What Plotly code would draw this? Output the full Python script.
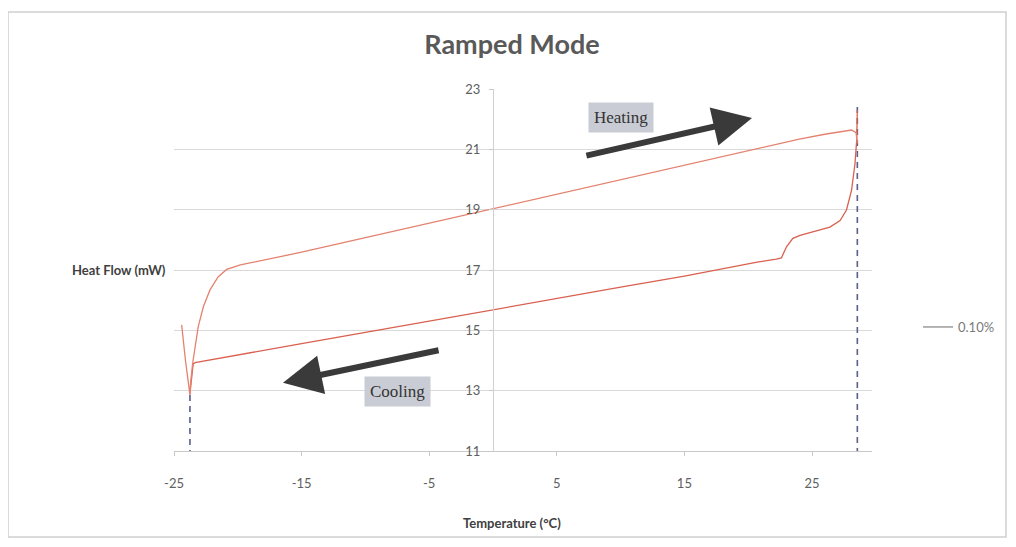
import plotly.graph_objects as go

# Heating curve (upper branch), temperature in °C, heat flow in mW
heat_T = [-24.4, -24.1, -23.75, -23.7, -23.54, -23.35, -23.1, -22.7, -22.18, -21.53, -20.87, -19.8,
          -15, -10, -5, 0, 5, 10, 15, 20, 24, 26, 27.3, 28.1, 28.45, 28.55]
heat_HF = [15.18, 14.0, 12.86, 13.25, 13.9, 14.46, 15.12, 15.78, 16.34, 16.78, 17.02, 17.17,
           17.59, 18.07, 18.55, 19.04, 19.52, 20.0, 20.49, 20.97, 21.34, 21.5, 21.6, 21.64, 21.55, 21.2]

# Cooling curve (lower branch)
cool_T = [28.55, 28.55, 28.5, 28.37, 28.1, 27.7, 27.2, 26.4, 25.1, 24.06, 23.5, 23.0, 22.6, 22.2,
          20.7, 15, 10, 5, 0, -5, -10, -15, -20, -23.35, -23.5, -23.65, -23.75]
cool_HF = [22.3, 21.6, 21.3, 20.54, 19.65, 18.99, 18.64, 18.42, 18.27, 18.15, 18.05, 17.77, 17.4, 17.36,
           17.26, 16.8, 16.43, 16.05, 15.68, 15.3, 14.93, 14.56, 14.18, 13.93, 13.88, 13.3, 12.9]

# Isothermal markers (dashed verticals at the temperature extremes)
iso_T = [-23.75, -23.75, None, 28.55, 28.55]
iso_HF = [12.86, 11, None, 22.4, 11]

x_ticks = [-25, -15, -5, 5, 15, 25]
x_ticktext = ["-25", "-15", "-5", "5", "15", "25"]
y_ticks = [11, 13, 15, 17, 19, 21, 23]
x_range = [-25, 29.7]
y_range = [11, 23]

series_name = "0.10%"

fig = go.Figure()
fig.add_trace(go.Scatter(x=iso_T, y=iso_HF, mode="lines", showlegend=False,
                         line=dict(color="#5a5f8c", width=1.6, dash="6px,5px"), hoverinfo="skip"))
fig.add_trace(go.Scatter(x=cool_T, y=cool_HF, mode="lines", showlegend=False,
                         line=dict(color="#d9604f", width=1.3)))
fig.add_trace(go.Scatter(x=heat_T, y=heat_HF, mode="lines", showlegend=False,
                         line=dict(color="#e4826f", width=1.3)))
fig.add_trace(go.Scatter(x=[None], y=[None], mode="lines", name=series_name,
                         line=dict(color="#9a9a9a", width=1.5)))

# page body has an 8px margin; figure is sized to fit inside the window
OFF = 8
W, H = 1016 - 2 * OFF, 547 - 2 * OFF
L, R, T, B = 174, 872, 89, 451  # plot area in page pixels
pos_y = (0 - x_range[0]) / (x_range[1] - x_range[0])

def px(xp):
    return (xp - L) / (R - L)

def py(yp):
    return (B - yp) / (B - T)

font_fam = "Lato, Open Sans, sans-serif"

fig.update_layout(
    width=W, height=H,
    margin=dict(l=L - OFF, r=W - (R - OFF), t=T - OFF, b=H - (B - OFF), autoexpand=False),
    paper_bgcolor="white", plot_bgcolor="white",
    title=dict(text="<b>Ramped Mode</b>", x=(512 - OFF) / W, xanchor="center",
               y=1 - (45 - OFF) / H, yanchor="middle", yref="container",
               font=dict(family=font_fam, size=27, color="#595959")),
    xaxis=dict(range=x_range, tickvals=x_ticks, ticktext=x_ticktext, showgrid=False, zeroline=False,
               showline=True, linecolor="#c8c8c8", linewidth=1,
               ticks="outside", ticklen=4, tickcolor="#c8c8c8",
               ticklabelstandoff=16,
               tickfont=dict(family=font_fam, size=13, color="#606060")),
    yaxis=dict(range=y_range, tickvals=y_ticks, showgrid=True, gridcolor="#d9d9d9",
               zeroline=False, showline=True, linecolor="#d0d0d0", linewidth=1,
               anchor="free", position=pos_y,
               ticks="outside", ticklen=4, tickcolor="#c8c8c8",
               ticklabelstandoff=6,
               tickfont=dict(family=font_fam, size=13, color="#606060")),
    showlegend=True,
    legend=dict(x=px(918), y=py(327), xanchor="left", yanchor="middle",
                font=dict(family=font_fam, size=13, color="#7a7a7a"),
                bgcolor="rgba(0,0,0,0)"),
    shapes=[dict(type="rect", xref="paper", yref="paper",
                 x0=px(8), x1=px(1006), y0=py(537), y1=py(12),
                 line=dict(color="#cfcfcf", width=1.5), layer="below")],
    annotations=[
        dict(text="<b>Heat Flow (mW)</b>", xref="paper", yref="paper",
             x=px(168), y=py(270), xanchor="right", yanchor="middle", showarrow=False,
             font=dict(family=font_fam, size=13, color="#404040")),
        dict(text="<b>Temperature (°C)</b>", xref="paper", yref="paper",
             x=px(512), y=py(523), xanchor="center", yanchor="middle", showarrow=False,
             font=dict(family=font_fam, size=13, color="#404040")),
        dict(text="", x=20.3, y=22.04, xref="x", yref="y", ax=7.2, ay=20.78,
             axref="x", ayref="y", showarrow=True, arrowhead=2, arrowsize=1.3,
             arrowwidth=6, arrowcolor="#3a3a3a"),
        dict(text="", x=-16.46, y=13.26, xref="x", yref="y", ax=-4.15, ay=14.35,
             axref="x", ayref="y", showarrow=True, arrowhead=2, arrowsize=1.3,
             arrowwidth=6, arrowcolor="#3a3a3a"),
        dict(text="Heating", x=10.03, y=22.04, xref="x", yref="y", showarrow=False,
             bgcolor="#c9ccd4", borderpad=5,
             font=dict(family="Liberation Serif, DejaVu Serif, serif", size=17, color="#333333")),
        dict(text="Cooling", x=-7.45, y=12.96, xref="x", yref="y", showarrow=False,
             bgcolor="#c9ccd4", borderpad=5,
             font=dict(family="Liberation Serif, DejaVu Serif, serif", size=17, color="#333333")),
    ],
)

fig.write_html("out.html")
